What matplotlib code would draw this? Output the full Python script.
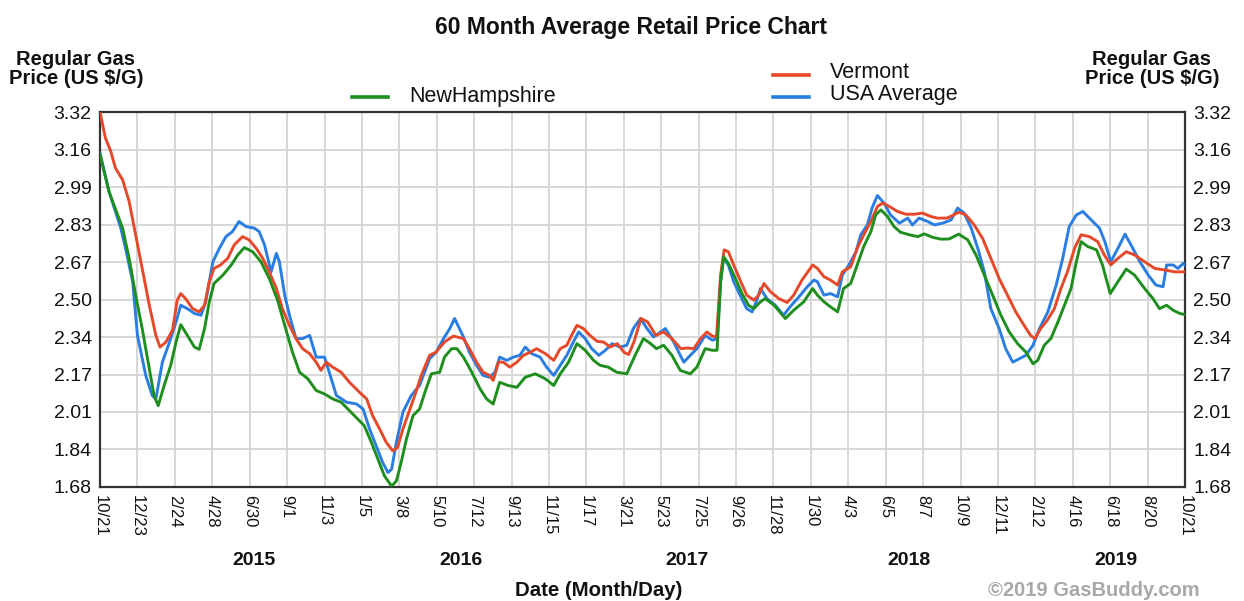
import matplotlib.pyplot as plt
from matplotlib.lines import Line2D
from matplotlib.transforms import blended_transform_factory

plt.rcParams['font.family'] = ['Liberation Sans', 'DejaVu Sans']

# x values are days since 10/21/2014
vt_days = [0, 9, 18, 26, 38, 49, 60, 71, 83, 94, 101, 111, 122, 130, 136, 144, 156, 167, 176, 184,
           192, 203, 215, 226, 240, 251, 263, 274, 285, 297, 307, 319, 330, 341, 353, 364, 372, 381, 392, 406,
           420, 437, 449, 459, 471, 482, 493, 501, 510, 522, 530, 541, 555, 566, 580, 595, 612, 622, 634, 645,
           656, 662, 671, 679, 690, 702, 713, 725, 735, 750, 764, 775, 786, 794, 803, 814, 825, 837, 848, 859,
           871, 882, 890, 899, 911, 922, 936, 949, 963, 978, 989, 1000, 1011, 1022, 1031, 1038, 1045, 1051, 1058, 1067,
           1079, 1089, 1101, 1109, 1118, 1129, 1143, 1157, 1168, 1182, 1200, 1208, 1219, 1230, 1242, 1250, 1264, 1275, 1286, 1298,
           1309, 1318, 1329, 1343, 1357, 1371, 1385, 1399, 1410, 1426, 1436, 1446, 1458, 1472, 1486, 1500, 1514, 1528, 1542, 1556,
           1567, 1574, 1584, 1595, 1607, 1618, 1629, 1641, 1652, 1666, 1680, 1691, 1702, 1714, 1728, 1742, 1759, 1776, 1793, 1810,
           1827]
vt_price = [3.32, 3.207, 3.149, 3.075, 3.024, 2.929, 2.783, 2.636, 2.475, 2.343, 2.292, 2.314, 2.365, 2.497, 2.526, 2.504, 2.46, 2.446, 2.475, 2.578,
            2.636, 2.651, 2.68, 2.739, 2.775, 2.761, 2.724, 2.68, 2.621, 2.548, 2.46, 2.387, 2.329, 2.285, 2.263, 2.226, 2.19, 2.226, 2.204, 2.182,
            2.138, 2.094, 2.065, 1.992, 1.933, 1.875, 1.838, 1.853, 1.933, 2.021, 2.08, 2.168, 2.256, 2.27, 2.314, 2.34, 2.329, 2.285, 2.226, 2.182,
            2.168, 2.146, 2.226, 2.226, 2.204, 2.226, 2.256, 2.27, 2.285, 2.263, 2.234, 2.285, 2.3, 2.343, 2.387, 2.373, 2.343, 2.317, 2.314, 2.292,
            2.307, 2.27, 2.259, 2.314, 2.417, 2.402, 2.343, 2.358, 2.329, 2.285, 2.288, 2.285, 2.329, 2.358, 2.34, 2.336, 2.607, 2.717, 2.709, 2.651,
            2.578, 2.519, 2.497, 2.519, 2.57, 2.534, 2.504, 2.487, 2.519, 2.585, 2.651, 2.636, 2.6, 2.585, 2.563, 2.621, 2.643, 2.724, 2.783, 2.841,
            2.907, 2.922, 2.907, 2.885, 2.873, 2.873, 2.878, 2.863, 2.856, 2.856, 2.868, 2.882, 2.87, 2.826, 2.768, 2.68, 2.592, 2.519, 2.446, 2.387,
            2.343, 2.329, 2.373, 2.409, 2.46, 2.548, 2.621, 2.724, 2.783, 2.775, 2.753, 2.695, 2.651, 2.68, 2.709, 2.695, 2.665, 2.636, 2.629, 2.621,
            2.621]

usa_days = [0, 15, 35, 43, 55, 63, 77, 88, 94, 105, 117, 128, 136, 147, 159, 170, 178, 190, 201, 212,
            223, 234, 246, 260, 268, 277, 288, 297, 302, 311, 319, 330, 341, 353, 364, 378, 386, 398, 415, 432,
            443, 454, 465, 476, 485, 491, 499, 510, 524, 538, 555, 566, 580, 589, 597, 612, 622, 634, 645, 656,
            665, 673, 685, 696, 707, 716, 727, 741, 752, 764, 775, 786, 797, 806, 817, 828, 840, 851, 862, 876,
            887, 898, 910, 921, 932, 952, 966, 977, 983, 994, 1005, 1019, 1031, 1039, 1045, 1050, 1058, 1067, 1079, 1089,
            1098, 1106, 1112, 1123, 1137, 1151, 1162, 1177, 1191, 1202, 1208, 1219, 1230, 1242, 1250, 1261, 1273, 1281, 1292, 1300,
            1309, 1320, 1331, 1346, 1360, 1368, 1379, 1394, 1405, 1419, 1433, 1444, 1455, 1467, 1478, 1489, 1500, 1514, 1525, 1537,
            1548, 1559, 1571, 1582, 1596, 1610, 1621, 1632, 1644, 1655, 1669, 1683, 1692, 1702, 1714, 1726, 1736, 1751, 1765, 1778,
            1790, 1796, 1807, 1815, 1824, 1827]
usa_price = [3.14, 2.973, 2.812, 2.724, 2.578, 2.343, 2.168, 2.08, 2.065, 2.226, 2.314, 2.402, 2.475, 2.46, 2.439, 2.431, 2.49, 2.665, 2.724, 2.775,
             2.797, 2.841, 2.819, 2.812, 2.797, 2.739, 2.621, 2.702, 2.665, 2.519, 2.431, 2.329, 2.329, 2.343, 2.248, 2.248, 2.182, 2.08, 2.051, 2.043,
             2.021, 1.933, 1.86, 1.787, 1.743, 1.758, 1.875, 2.007, 2.08, 2.124, 2.241, 2.27, 2.336, 2.373, 2.417, 2.336, 2.27, 2.212, 2.168, 2.16,
             2.182, 2.248, 2.234, 2.248, 2.256, 2.292, 2.263, 2.248, 2.204, 2.168, 2.212, 2.256, 2.314, 2.358, 2.329, 2.285, 2.256, 2.278, 2.307, 2.292,
             2.3, 2.373, 2.417, 2.373, 2.336, 2.373, 2.314, 2.256, 2.226, 2.256, 2.285, 2.343, 2.322, 2.329, 2.578, 2.68, 2.651, 2.578, 2.512, 2.46,
             2.446, 2.497, 2.548, 2.504, 2.475, 2.431, 2.468, 2.512, 2.556, 2.585, 2.578, 2.519, 2.526, 2.512, 2.607, 2.651, 2.709, 2.783, 2.826, 2.9,
             2.955, 2.922, 2.87, 2.834, 2.856, 2.826, 2.856, 2.841, 2.826, 2.834, 2.848, 2.9, 2.878, 2.812, 2.724, 2.621, 2.46, 2.373, 2.285, 2.226,
             2.241, 2.256, 2.3, 2.373, 2.446, 2.563, 2.68, 2.819, 2.87, 2.885, 2.848, 2.812, 2.753, 2.665, 2.724, 2.786, 2.739, 2.665, 2.607, 2.563,
             2.556, 2.651, 2.651, 2.636, 2.658, 2.65]

nh_days = [0, 15, 38, 49, 60, 71, 83, 91, 98, 108, 119, 128, 136, 147, 159, 167, 176, 184, 192, 207,
           221, 232, 243, 257, 271, 285, 299, 311, 324, 336, 350, 364, 378, 392, 406, 420, 434, 445, 457, 468,
           479, 491, 499, 507, 516, 527, 538, 549, 558, 572, 580, 592, 601, 612, 626, 640, 651, 662, 673, 687,
           702, 716, 733, 750, 764, 775, 789, 803, 817, 831, 842, 856, 870, 887, 901, 915, 927, 937, 949, 963,
           977, 994, 1005, 1019, 1031, 1039, 1045, 1050, 1058, 1070, 1081, 1092, 1101, 1112, 1120, 1135, 1154, 1168, 1185, 1200,
           1208, 1219, 1230, 1242, 1252, 1264, 1275, 1286, 1298, 1306, 1315, 1326, 1337, 1348, 1363, 1377, 1388, 1402, 1416, 1430,
           1446, 1461, 1475, 1489, 1503, 1517, 1531, 1545, 1559, 1571, 1579, 1590, 1601, 1613, 1624, 1635, 1644, 1652, 1663, 1678,
           1688, 1701, 1714, 1728, 1742, 1759, 1773, 1784, 1796, 1807, 1818, 1827]
nh_price = [3.134, 2.973, 2.812, 2.68, 2.519, 2.373, 2.197, 2.08, 2.036, 2.124, 2.212, 2.314, 2.39, 2.343, 2.292, 2.282, 2.373, 2.49, 2.57, 2.607,
            2.651, 2.695, 2.727, 2.709, 2.665, 2.592, 2.497, 2.387, 2.27, 2.182, 2.153, 2.102, 2.087, 2.065, 2.051, 2.014, 1.977, 1.948, 1.875, 1.802,
            1.728, 1.684, 1.706, 1.787, 1.89, 1.992, 2.021, 2.109, 2.175, 2.182, 2.248, 2.285, 2.285, 2.248, 2.182, 2.109, 2.065, 2.043, 2.138, 2.124,
            2.116, 2.16, 2.175, 2.153, 2.124, 2.175, 2.226, 2.307, 2.278, 2.234, 2.212, 2.204, 2.182, 2.175, 2.256, 2.329, 2.307, 2.285, 2.3, 2.256,
            2.19, 2.175, 2.204, 2.285, 2.278, 2.278, 2.578, 2.687, 2.658, 2.592, 2.526, 2.475, 2.46, 2.49, 2.504, 2.475, 2.417, 2.453, 2.49, 2.548,
            2.519, 2.49, 2.468, 2.446, 2.548, 2.57, 2.651, 2.732, 2.797, 2.87, 2.892, 2.863, 2.819, 2.794, 2.783, 2.775, 2.787, 2.772, 2.764, 2.765,
            2.786, 2.761, 2.695, 2.607, 2.519, 2.431, 2.358, 2.307, 2.27, 2.219, 2.234, 2.3, 2.329, 2.402, 2.475, 2.548, 2.665, 2.753, 2.732, 2.717,
            2.651, 2.526, 2.578, 2.633, 2.607, 2.548, 2.504, 2.46, 2.475, 2.453, 2.439, 2.434]

tick_days = [63 * k for k in range(30)]
tick_labels = ['10/21', '12/23', '2/24', '4/28', '6/30', '9/1', '11/3', '1/5', '3/8', '5/10',
               '7/12', '9/13', '11/15', '1/17', '3/21', '5/23', '7/25', '9/26', '11/28', '1/30',
               '4/3', '6/5', '8/7', '10/9', '12/11', '2/12', '4/16', '6/18', '8/20', '10/21']
price_ticks = [1.68, 1.84, 2.01, 2.17, 2.34, 2.50, 2.67, 2.83, 2.99, 3.16, 3.32]
years = ['2015', '2016', '2017', '2018', '2019']
year_days = [259, 607, 988, 1363, 1711]

RED = '#e5492a'
BLUE = '#2a7de1'
GREEN = '#1e8f1e'

fig = plt.figure(figsize=(12.44, 6.01), dpi=100, facecolor='white')
ax = fig.add_axes([0.0804, 0.1897, 0.8722, 0.6239])

ax.plot(usa_days, usa_price, color=BLUE, lw=2.1, zorder=3)
ax.plot(vt_days, vt_price, color=RED, lw=2.1, zorder=4)
ax.plot(nh_days, nh_price, color=GREEN, lw=2.1, zorder=5)

ax.set_xlim(0, 1827)
ax.set_ylim(1.68, 3.32)
ax.set_xticks(tick_days)
ax.set_xticklabels(tick_labels, rotation=270, fontsize=12)
ax.set_yticks([1.68 + 0.164 * i for i in range(11)])
ax.set_yticklabels(['%.2f' % p for p in price_ticks], fontsize=14)
ax.tick_params(axis='both', length=0, pad=6, colors='#111111')
ax.tick_params(axis='y', labelright=True)
ax.grid(True, color='#d4d4d4', lw=1.3)
ax.set_axisbelow(True)
for s in ax.spines.values():
    s.set_color('#333333')
    s.set_linewidth(1.6)

fig.text(0.507, 0.955, '60 Month Average Retail Price Chart', ha='center', va='center',
         fontsize=16.5, fontweight='bold', color='#111111')
fig.text(0.061, 0.885, 'Regular Gas\nPrice (US $/G)', ha='center', va='center',
         fontsize=14.5, fontweight='bold', color='#111111', linespacing=1.05)
fig.text(0.926, 0.885, 'Regular Gas\nPrice (US $/G)', ha='center', va='center',
         fontsize=14.5, fontweight='bold', color='#111111', linespacing=1.05)

trans = blended_transform_factory(ax.transData, fig.transFigure)
for yr, d in zip(years, year_days):
    ax.text(d, 0.068, yr, transform=trans, ha='center', va='center',
            fontsize=14, fontweight='bold', color='#111111')

fig.text(0.481, 0.018, 'Date (Month/Day)', ha='center', va='center',
         fontsize=14.7, fontweight='bold', color='#111111')
fig.text(0.879, 0.018, '\u00a92019 GasBuddy.com', ha='center', va='center',
         fontsize=14.5, fontweight='bold', color='#a8a8a8')

# legend drawn by hand in figure coords
fig.add_artist(Line2D([0.283, 0.312], [0.838, 0.838], color=GREEN, lw=2.6))
fig.text(0.329, 0.84, 'NewHampshire', ha='left', va='center', fontsize=15.5, color='#111111')
fig.add_artist(Line2D([0.621, 0.65], [0.875, 0.875], color=RED, lw=2.6))
fig.text(0.667, 0.879, 'Vermont', ha='left', va='center', fontsize=15.5, color='#111111')
fig.add_artist(Line2D([0.621, 0.65], [0.839, 0.839], color=BLUE, lw=2.6))
fig.text(0.667, 0.842, 'USA Average', ha='left', va='center', fontsize=15.5, color='#111111')

fig.savefig('out.png', dpi=100, facecolor='white')
